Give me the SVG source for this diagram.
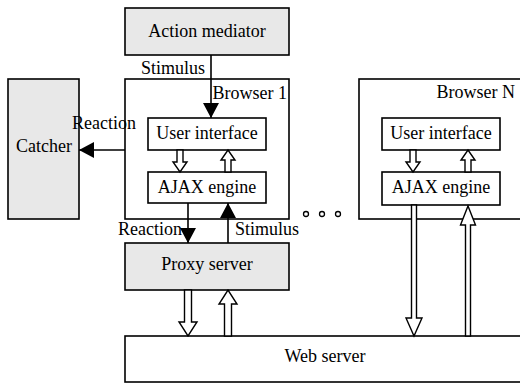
<svg xmlns="http://www.w3.org/2000/svg" width="520" height="383" viewBox="0 0 520 383" font-family="'Liberation Serif', 'DejaVu Serif', 'Times New Roman', serif">
<style>
text{font-family:'Liberation Serif','DejaVu Serif','Times New Roman',serif;font-size:18px;fill:#000}
.g{fill:#e8e8e8;stroke:#000;stroke-width:1.6}
.w{fill:#fff;stroke:#000;stroke-width:1.6}
.ln{fill:none;stroke:#000;stroke-width:1.6}
.ha{fill:#fff;stroke:#000;stroke-width:1.4;stroke-linejoin:miter}
.mid{text-anchor:middle}
.end{text-anchor:end}
</style>
<defs>
<marker id="ah" markerWidth="15" markerHeight="16" refX="15" refY="8" orient="auto" markerUnits="userSpaceOnUse">
<path d="M0,0 L15,8 L0,16 Z" fill="#000"/>
</marker>
</defs>
<g id="action-mediator"><rect class="g" x="125" y="8" width="164" height="47"/><text class="mid" x="207" y="37">Action mediator</text></g>
<g id="catcher"><rect class="g" x="8" y="79" width="71" height="140"/><text x="16" y="152">Catcher</text></g>
<g id="browser1"><rect class="w" x="125" y="79" width="164" height="140"/><text class="end" x="287" y="99">Browser 1</text></g>
<g id="ui1"><rect class="w" x="148" y="118" width="118" height="32"/><text class="mid" x="207" y="139">User interface</text></g>
<g id="ajax1"><rect class="w" x="148" y="172" width="118" height="31"/><text class="mid" x="207" y="193">AJAX engine</text></g>
<g id="browserN"><rect class="w" x="359" y="79" width="170" height="140"/><text class="end" x="515" y="98">Browser N</text></g>
<g id="uiN"><rect class="w" x="382" y="118" width="118" height="32"/><text class="mid" x="441" y="139">User interface</text></g>
<g id="ajaxN"><rect class="w" x="382" y="172" width="118" height="33"/><text class="mid" x="441" y="193">AJAX engine</text></g>
<g id="proxy"><rect class="g" x="125" y="243" width="164" height="47"/><text class="mid" x="207" y="270">Proxy server</text></g>
<g id="webserver"><rect class="w" x="125" y="336" width="410" height="46"/><text class="mid" x="325" y="362">Web server</text></g>
<g id="dots" fill="#fff" stroke="#000" stroke-width="1.3"><circle cx="306" cy="214" r="2.5"/><circle cx="322" cy="214" r="2.5"/><circle cx="338" cy="214" r="2.5"/></g>
<g id="connectors">
<line class="ln" x1="211" y1="55" x2="211" y2="118" marker-end="url(#ah)"/>
<text x="141" y="74">Stimulus</text>
<line class="ln" x1="125" y1="150" x2="79" y2="150" marker-end="url(#ah)"/>
<text x="72" y="129">Reaction</text>
<line class="ln" x1="188" y1="203" x2="188" y2="243" marker-end="url(#ah)"/>
<text x="118" y="235">Reaction</text>
<line class="ln" x1="228" y1="243" x2="228" y2="203" marker-end="url(#ah)"/>
<text x="235" y="235">Stimulus</text>
<path class="ha" d="M177,150 V162 H173 L180,172 L187,162 H183 V150 Z"/>
<path class="ha" d="M225,172 V160 H221 L228,150 L235,160 H231 V172 Z"/>
<path class="ha" d="M410,150 V162 H406 L413,172 L420,162 H416 V150 Z"/>
<path class="ha" d="M465,172 V160 H461 L468,150 L475,160 H471 V172 Z"/>
<path class="ha" d="M184.5,290 V322 H179 L188,336 L197,322 H191.5 V290 Z"/>
<path class="ha" d="M224.5,336 V304 H219 L228,290 L237,304 H231.5 V336 Z"/>
<path class="ha" d="M411.5,205 V318 H406 L414,336 L422,318 H416.5 V205 Z"/>
<path class="ha" d="M465.5,336 V225 H460.5 L468,206 L475.5,225 H470.5 V336 Z"/>
</g>
</svg>
